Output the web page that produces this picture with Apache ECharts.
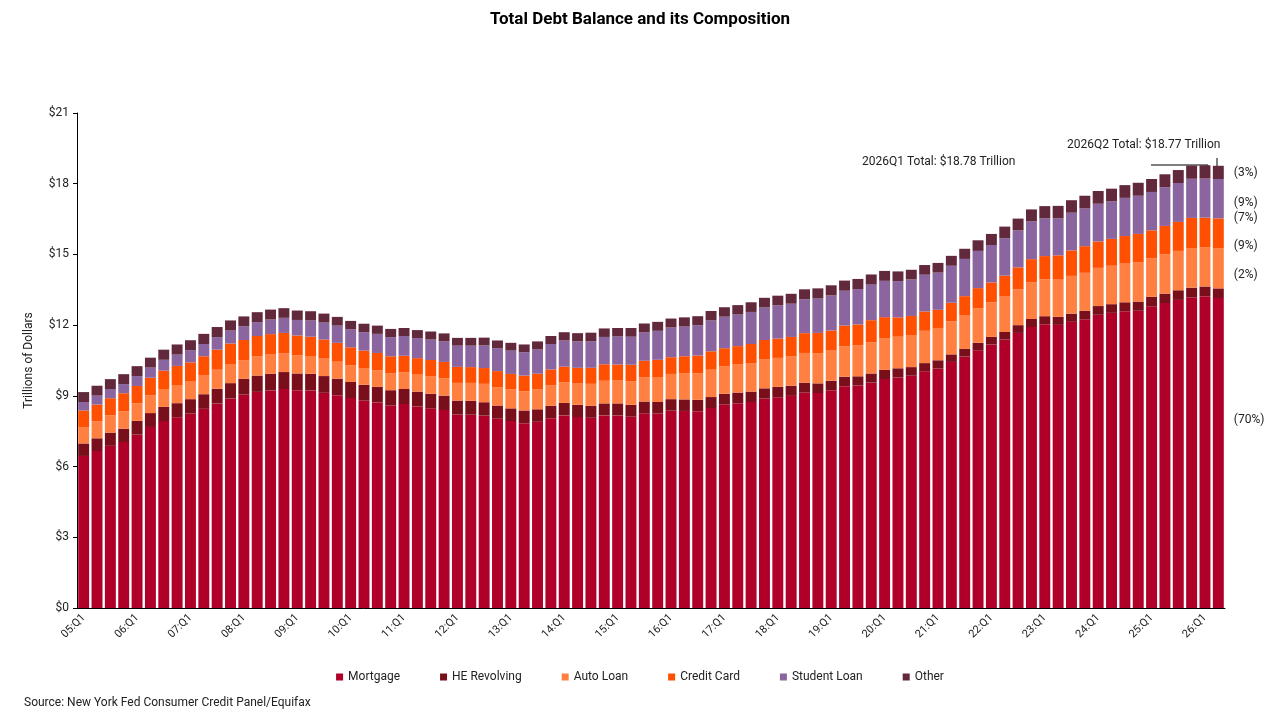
<!DOCTYPE html>
<html>
<head>
<meta charset="utf-8">
<script src="https://cdn.jsdelivr.net/npm/echarts@6/dist/echarts.min.js"></script>
<style>html,body{margin:0;padding:0;background:#fff}#chart{width:1280px;height:720px}</style>
</head>
<body>
<div id="chart"></div>
<script>
// quarters 2005Q1 .. 2026Q2
const quarters = [];
for (let y = 5; y <= 26; y++) {
  for (let q = 1; q <= 4; q++) {
    if (y === 26 && q > 2) break;
    quarters.push(String(y).padStart(2, "0") + ":Q" + q);
  }
}

const mortgage = [
  6.45, 6.66, 6.88, 7.04, 7.36, 7.68, 7.93, 8.09, 8.25, 8.45, 8.67, 8.89,
  9.05, 9.17, 9.23, 9.29, 9.24, 9.23, 9.13, 9.03, 8.91, 8.80, 8.72, 8.59,
  8.65, 8.55, 8.47, 8.40, 8.21, 8.20, 8.16, 8.03, 7.93, 7.84, 7.90, 8.05,
  8.17, 8.10, 8.07, 8.17, 8.17, 8.12, 8.26, 8.25, 8.37, 8.36, 8.35, 8.48,
  8.63, 8.69, 8.74, 8.88, 8.94, 9.00, 9.14, 9.12, 9.24, 9.41, 9.44, 9.56,
  9.71, 9.78, 9.86, 10.04, 10.16, 10.44, 10.67, 10.93, 11.18, 11.39, 11.67, 11.92,
  12.04, 12.01, 12.14, 12.25, 12.44, 12.52, 12.59, 12.61, 12.80, 12.94, 13.07, 13.17,
  13.23, 13.15
];
const heRevolving = [
  .53, .54, .56, .57, .58, .59, .60, .60, .61, .62, .63, .65,
  .67, .69, .71, .72, .71, .71, .71, .70, .68, .67, .66, .65,
  .64, .63, .62, .61, .59, .59, .57, .56, .54, .54, .53, .53,
  .53, .52, .51, .51, .51, .50, .50, .49, .49, .49, .48, .47,
  .46, .45, .44, .44, .44, .43, .42, .41, .40, .40, .39, .39,
  .39, .39, .36, .35, .35, .32, .32, .32, .32, .32, .33, .34,
  .34, .34, .35, .36, .37, .37, .38, .39, .40, .40, .41, .42,
  .41, .41
];
const autoLoan = [
  .70, .72, .73, .74, .74, .75, .76, .77, .77, .79, .81, .81,
  .80, .81, .81, .79, .77, .75, .74, .72, .71, .71, .71, .71,
  .71, .72, .73, .73, .75, .76, .78, .78, .80, .81, .84, .86,
  .88, .90, .93, .96, .97, 1.00, 1.02, 1.06, 1.07, 1.10, 1.13, 1.16,
  1.17, 1.19, 1.21, 1.22, 1.23, 1.24, 1.26, 1.27, 1.28, 1.30, 1.32, 1.33,
  1.35, 1.34, 1.36, 1.37, 1.37, 1.40, 1.44, 1.46, 1.47, 1.50, 1.52, 1.55,
  1.56, 1.58, 1.60, 1.61, 1.62, 1.63, 1.64, 1.66, 1.64, 1.66, 1.67, 1.68,
  1.67, 1.69
];
const creditCard = [
  .70, .71, .73, .76, .74, .75, .78, .81, .79, .82, .85, .87,
  .85, .87, .87, .87, .84, .82, .81, .80, .76, .74, .73, .73,
  .70, .70, .70, .70, .68, .67, .67, .68, .66, .67, .67, .68,
  .66, .67, .68, .70, .68, .70, .71, .73, .71, .73, .75, .78,
  .76, .78, .81, .83, .82, .83, .84, .87, .85, .87, .88, .93,
  .89, .82, .81, .82, .77, .79, .80, .86, .84, .89, .93, .99,
  .99, 1.03, 1.08, 1.13, 1.12, 1.14, 1.17, 1.21, 1.18, 1.21, 1.23, 1.28,
  1.25, 1.28
];
const studentLoan = [
  .36, .38, .39, .39, .42, .43, .46, .48, .51, .52, .53, .55,
  .58, .59, .62, .64, .66, .69, .72, .73, .76, .78, .81, .81,
  .84, .85, .87, .87, .90, .91, .96, .97, .99, .99, 1.03, 1.08,
  1.11, 1.12, 1.13, 1.16, 1.19, 1.19, 1.20, 1.23, 1.26, 1.26, 1.28, 1.31,
  1.34, 1.34, 1.36, 1.38, 1.41, 1.41, 1.44, 1.46, 1.49, 1.48, 1.50, 1.51,
  1.54, 1.54, 1.55, 1.56, 1.58, 1.57, 1.58, 1.58, 1.59, 1.59, 1.57, 1.60,
  1.60, 1.57, 1.60, 1.60, 1.60, 1.59, 1.62, 1.62, 1.63, 1.64, 1.65, 1.66,
  1.66, 1.67
];
const other = [
  .42, .42, .42, .42, .42, .42, .43, .43, .43, .43, .43, .43,
  .42, .42, .42, .41, .40, .39, .38, .37, .36, .36, .35, .35,
  .34, .34, .34, .34, .33, .33, .33, .33, .33, .33, .34, .34,
  .35, .35, .36, .36, .36, .37, .38, .38, .38, .39, .39, .40,
  .40, .40, .41, .41, .41, .42, .42, .43, .43, .43, .43, .43,
  .42, .41, .41, .41, .41, .42, .43, .45, .47, .49, .50, .51,
  .52, .53, .53, .54, .54, .54, .54, .55, .55, .55, .55, .56,
  .56, .56
];

const seriesInfo = [
  { name: "Mortgage", data: mortgage, color: "#b0002a", dy: -33 },
  { name: "HE Revolving", data: heRevolving, color: "#790f1b", dy: -18 },
  { name: "Auto Loan", data: autoLoan, color: "#ff8040", dy: -22 },
  { name: "Credit Card", data: creditCard, color: "#ff4f00", dy: -15 },
  { name: "Student Loan", data: studentLoan, color: "#8a65a0", dy: 4 },
  { name: "Other", data: other, color: "#62283c", dy: 1 }
];

const last = quarters.length - 1;
let lastTotal = 0;
seriesInfo.forEach(function (s) { lastTotal += s.data[last]; });

const series = seriesInfo.map(function (s) {
  return {
    name: s.name,
    type: "bar",
    stack: "total",
    barCategoryGap: "18%",
    itemStyle: { color: s.color },
    data: s.data.map(function (v, i) {
      if (i !== last) return v;
      return {
        value: v,
        label: {
          show: true,
          position: "right",
          distance: 10,
          offset: [0, s.dy],
          color: "#222",
          fontSize: 12,
          formatter: "(" + Math.round(v / lastTotal * 100) + "%)"
        }
      };
    })
  };
});

const chart = echarts.init(document.getElementById("chart"));
chart.setOption({
  animation: false,
  textStyle: { fontFamily: "Roboto" },
  title: {
    text: "Total Debt Balance and its Composition",
    left: "center",
    top: 6,
    textStyle: { fontSize: 17, fontWeight: "bold", color: "#000" }
  },
  legend: {
    bottom: 32,
    left: "center",
    itemWidth: 7,
    itemHeight: 7,
    icon: "rect",
    itemGap: 40,
    textStyle: { fontSize: 12, color: "#222" }
  },
  grid: { left: 77, right: 55, top: 113, bottom: 112 },
  xAxis: {
    type: "category",
    data: quarters,
    axisLine: { lineStyle: { color: "#000" } },
    axisTick: { show: false },
    axisLabel: { interval: 3, rotate: 45, color: "#222", fontSize: 11, margin: 8 }
  },
  yAxis: {
    type: "value",
    min: 0,
    max: 21,
    interval: 3,
    name: "Trillions of Dollars",
    nameLocation: "middle",
    nameGap: 42,
    nameTextStyle: { fontSize: 12, color: "#222" },
    splitLine: { show: false },
    axisLine: { show: true, lineStyle: { color: "#000" } },
    axisTick: { show: true, length: 4, lineStyle: { color: "#000" } },
    axisLabel: { color: "#222", fontSize: 12, formatter: function (v) { return "$" + v; } }
  },
  series: series,
  graphic: [
    { type: "text", left: 862, top: 156, style: { text: "2026Q1 Total: $18.78 Trillion", fontSize: 12, fill: "#222", fontFamily: "Roboto" } },
    { type: "text", left: 1067, top: 139, style: { text: "2026Q2 Total: $18.77 Trillion", fontSize: 12, fill: "#222", fontFamily: "Roboto" } },
    { type: "polyline", shape: { points: [[1151, 165], [1208, 165], [1208, 178]] }, style: { stroke: "#000", lineWidth: 1, fill: null } },
    { type: "line", shape: { x1: 1217, y1: 158, x2: 1217, y2: 175 }, style: { stroke: "#000", lineWidth: 1 } },
    { type: "text", left: 24, top: 697, style: { text: "Source: New York Fed Consumer Credit Panel/Equifax", fontSize: 12, fill: "#222", fontFamily: "Roboto" } }
  ]
});
</script>
</body>
</html>
